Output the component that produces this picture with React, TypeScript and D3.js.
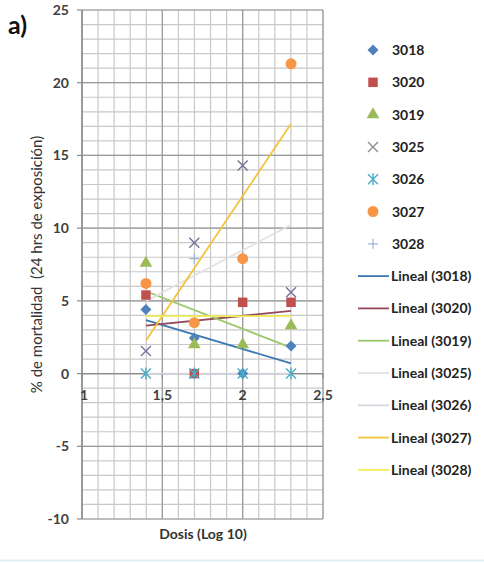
import React from 'react';
import * as d3 from 'd3';

const doses = [1.398, 1.699, 2.0, 2.301];
const seriesNames = ['3018', '3020', '3019', '3025', '3026', '3027', '3028'];
const v3018 = [4.4, 2.45, 0, 1.9];
const v3020 = [5.4, 0, 4.9, 4.9];
const v3019 = [7.6, 2.0, 2.0, 3.3];
const v3025 = [1.55, 9.0, 14.3, 5.6];
const v3026 = [0, 0, 0, 0];
const v3027 = [6.2, 3.5, 7.9, 21.3];
const v3028: (number | null)[] = [null, 7.9, null, null];
const trend3028 = [3.95, 3.95];
const xTicks = [1, 1.5, 2, 2.5];
const xTickLabels = ['1', '1,5', '2', '2,5'];
const yTicks = [-10, -5, 0, 5, 10, 15, 20, 25];

const seriesValues = [v3018, v3020, v3019, v3025, v3026, v3027, v3028];
const markerColors = ['#4F81BD', '#C0504D', '#9BBB59', '#7D6E9C', '#4BACC6', '#F79646', '#9DB5D8'];
const markerKinds = ['diamond', 'square', 'triangle', 'x', 'star', 'circle', 'plus'];
const trendColors = ['#3D78B5', '#93495A', '#9BC86A', '#E2E2E2', '#D6D6E2', '#F2C43C', '#F2EE5A'];

const FONT = 'Lato, "Open Sans", sans-serif';

function Marker({ kind, color, cx, cy }: { kind: string; color: string; cx: number; cy: number }) {
  const t = `translate(${cx},${cy})`;
  if (kind === 'diamond') return <path transform={t} d="M0,-5.5L5.5,0L0,5.5L-5.5,0Z" fill={color} />;
  if (kind === 'square') return <path transform={t} d={d3.symbol(d3.symbolSquare, 90)()!} fill={color} />;
  if (kind === 'triangle') return <path transform={t} d={d3.symbol(d3.symbolTriangle, 70)()!} fill={color} />;
  if (kind === 'circle') return <circle cx={cx} cy={cy} r={5.5} fill={color} />;
  const r = 5;
  if (kind === 'x')
    return <path transform={t} d={`M${-r},${-r}L${r},${r}M${-r},${r}L${r},${-r}`} stroke={color} strokeWidth={1.4} fill="none" />;
  if (kind === 'star')
    return (
      <path transform={t} d={`M${-r},${-r}L${r},${r}M${-r},${r}L${r},${-r}M0,${-r - 1}L0,${r + 1}`} stroke={color} strokeWidth={1.4} fill="none" />
    );
  return <path transform={t} d={`M${-r},0L${r},0M0,${-r}L0,${r}`} stroke={color} strokeWidth={1.2} fill="none" />;
}

function regression(xs: number[], ys: (number | null)[]) {
  const pts = xs.map((x, i) => [x, ys[i]] as [number, number | null]).filter((p) => p[1] !== null) as [number, number][];
  const mx = d3.mean(pts, (p) => p[0])!;
  const my = d3.mean(pts, (p) => p[1])!;
  const sxy = d3.sum(pts, (p) => (p[0] - mx) * (p[1] - my));
  const sxx = d3.sum(pts, (p) => (p[0] - mx) ** 2);
  const slope = sxx ? sxy / sxx : 0;
  return (x: number) => my + slope * (x - mx);
}

export default function App() {
  const W = 484;
  const H = 563;
  const x = d3.scaleLinear().domain([1, 2.5]).range([82, 323]);
  const y = d3.scaleLinear().domain([-10, 25]).range([519, 10]);
  const minorX = d3.range(1, 2.5001, 0.1);
  const minorY = d3.range(-10, 25.001, 1);
  const x0 = doses[0];
  const x1 = doses[doses.length - 1];

  const trends = seriesValues.map((vals, i) => {
    if (seriesNames[i] === '3028') return [trend3028[0], trend3028[1]];
    const f = regression(doses, vals);
    return [f(x0), f(x1)];
  });

  const legendY0 = 50;
  const legendStep = 32.3;

  return (
    <svg width={W} height={H} style={{ position: 'absolute', left: 0, top: 0, background: '#fff' }}>
      <rect width={W} height={H} fill="#fff" />
      {/* minor grid */}
      {minorX.map((v, i) => (
        <line key={'mx' + i} x1={x(v)} x2={x(v)} y1={y(25)} y2={y(-10)} stroke="#C8C8C8" strokeWidth={1.2} />
      ))}
      {minorY.map((v, i) => (
        <line key={'my' + i} x1={x(1)} x2={x(2.5)} y1={y(v)} y2={y(v)} stroke="#C8C8C8" strokeWidth={1.2} />
      ))}
      {/* major grid */}
      {xTicks.map((v, i) => (
        <line key={'Mx' + i} x1={x(v)} x2={x(v)} y1={y(25)} y2={y(-10)} stroke="#9A9A9A" strokeWidth={1.2} />
      ))}
      {yTicks.map((v, i) => (
        <line key={'My' + i} x1={x(1)} x2={x(2.5)} y1={y(v)} y2={y(v)} stroke="#9A9A9A" strokeWidth={1.2} />
      ))}
      {/* axes */}
      <line x1={x(1)} x2={x(1)} y1={y(25)} y2={y(-10)} stroke="#8C8C8C" strokeWidth={1.3} />
      <line x1={x(1)} x2={x(2.5)} y1={y(0)} y2={y(0)} stroke="#8C8C8C" strokeWidth={1.3} />
      {yTicks.map((v, i) => (
        <line key={'yt' + i} x1={x(1) - 5} x2={x(1)} y1={y(v)} y2={y(v)} stroke="#8C8C8C" strokeWidth={1.2} />
      ))}
      {xTicks.map((v, i) => (
        <line key={'xt' + i} x1={x(v)} x2={x(v)} y1={y(0)} y2={y(0) + 5} stroke="#8C8C8C" strokeWidth={1.2} />
      ))}
      {yTicks.map((v, i) => (
        <text key={'yl' + i} x={x(1) - 13} y={y(v) + 5} textAnchor="end" fontFamily={FONT} fontWeight="bold" fontSize={14} fill="#404040">
          {v}
        </text>
      ))}
      {xTicks.map((v, i) => (
        <text key={'xl' + i} x={x(v) + (i === 0 ? 2 : 0)} y={y(0) + 26} textAnchor="middle" fontFamily={FONT} fontWeight="bold" fontSize={14} fill="#404040">
          {xTickLabels[i]}
        </text>
      ))}
      {/* trend lines */}
      {trends.map((tr, i) => (
        <line key={'tr' + i} x1={x(x0)} x2={x(x1)} y1={y(tr[0])} y2={y(tr[1])} stroke={trendColors[i]} strokeWidth={1.8} />
      ))}
      {/* markers */}
      {seriesValues.map((vals, si) =>
        vals.map((v, i) =>
          v === null ? null : <Marker key={`m${si}-${i}`} kind={markerKinds[si]} color={markerColors[si]} cx={x(doses[i])} cy={y(v)} />
        )
      )}
      {/* titles */}
      <text x={8} y={34} fontFamily={FONT} fontWeight="bold" fontSize={25} fill="#111">
        a)
      </text>
      <text x={203} y={539} textAnchor="middle" fontFamily={FONT} fontWeight="bold" fontSize={14} fill="#333">
        Dosis (Log 10)
      </text>
      <text
        transform={`translate(42,${(y(25) + y(-10)) / 2}) rotate(-90)`}
        textAnchor="middle"
        fontFamily={FONT}
        fontSize={15}
        fill="#333"
        xmlSpace="preserve"
      >
        % de mortalidad  (24 hrs de exposición)
      </text>
      {/* legend */}
      {seriesNames.map((n, i) => (
        <g key={'lg' + i}>
          <Marker kind={markerKinds[i]} color={i === 3 ? '#8C8C8C' : markerColors[i]} cx={373} cy={legendY0 + i * legendStep} />
          <text x={392} y={legendY0 + i * legendStep + 5} fontFamily={FONT} fontWeight="bold" fontSize={14} fill="#222">
            {n}
          </text>
        </g>
      ))}
      {seriesNames.map((n, i) => {
        const yy = legendY0 + (i + 7) * legendStep;
        return (
          <g key={'lt' + i}>
            <line x1={358} x2={389} y1={yy} y2={yy} stroke={trendColors[i]} strokeWidth={1.8} />
            <text x={391} y={yy + 5} fontFamily={FONT} fontWeight="bold" fontSize={14} fill="#222">
              {`Lineal (${n})`}
            </text>
          </g>
        );
      })}
      <line x1={0} x2={W} y1={560.5} y2={560.5} stroke="#E3F1F6" strokeWidth={2} />
    </svg>
  );
}
